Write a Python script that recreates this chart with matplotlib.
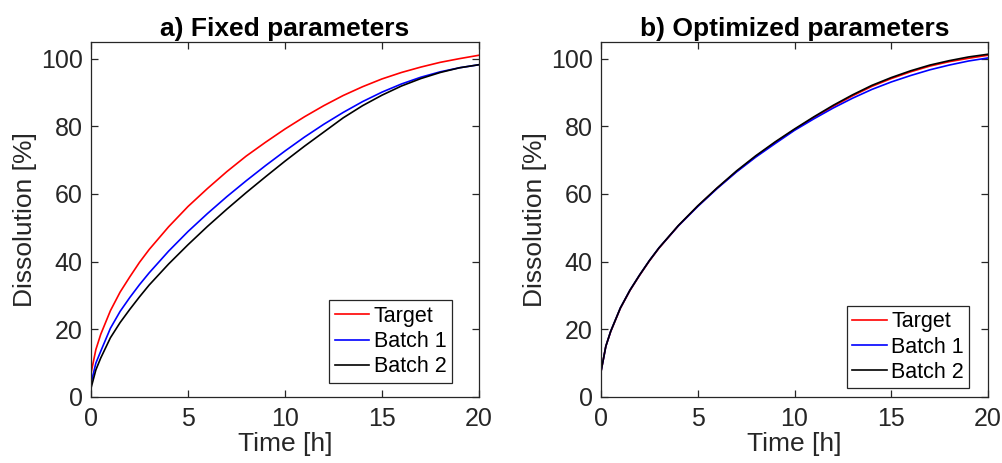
import matplotlib.pyplot as plt

plt.rcParams['font.family'] = ['Liberation Sans', 'DejaVu Sans']

# time grid [h]
time_h = [0, 0.25, 0.5, 1, 1.5, 2, 2.5, 3, 4, 5, 6, 7, 8, 9, 10,
          11, 12, 13, 14, 15, 16, 17, 18, 19, 20]

# a) fixed parameters
fixed_target = [7, 14, 18.5, 25.5, 31, 35.5, 39.8, 43.6, 50.3, 56.3, 61.6, 66.6, 71.2, 75.3, 79.2,
                82.8, 86.1, 89.1, 91.7, 94, 95.9, 97.5, 98.9, 100, 101]
fixed_batch1 = [4, 10, 13.5, 20.3, 25.3, 29.4, 33.2, 36.7, 43.1, 48.9, 54.2, 59.2, 63.9, 68.4, 72.7,
                76.8, 80.6, 84.1, 87.3, 90.1, 92.5, 94.5, 96.1, 97.3, 98.2]
fixed_batch2 = [2.6, 8, 11.5, 17.5, 22, 25.9, 29.6, 33.1, 39.3, 45, 50.4, 55.5, 60.4, 65.1, 69.7,
                74.1, 78.3, 82.5, 86.1, 89.2, 91.9, 94.1, 95.9, 97.3, 98.2]

# b) optimized parameters
opt_target = [7.5, 15, 19.3, 26.2, 31.5, 36, 40.2, 44, 50.6, 56.4, 61.7, 66.6, 71.1, 75.2, 79,
              82.6, 85.9, 89, 91.8, 94.1, 96.1, 97.8, 99.1, 100.1, 101]
opt_batch1 = [7.5, 15, 19.4, 26.3, 31.6, 36.1, 40.3, 44.1, 50.6, 56.3, 61.6, 66.5, 70.9, 74.9, 78.8,
              82.2, 85.4, 88.3, 90.9, 93.1, 95, 96.7, 98.1, 99.3, 100.2]
opt_batch2 = [7.5, 15, 19.4, 26.3, 31.6, 36.1, 40.3, 44.1, 50.7, 56.5, 61.8, 66.8, 71.3, 75.4, 79.2,
              82.8, 86.2, 89.3, 92.1, 94.4, 96.4, 98.1, 99.4, 100.5, 101.3]

series_labels = ['Target', 'Batch 1', 'Batch 2']
series_colors = ['#ff0000', '#0000ff', '#000000']
titles = ['a) Fixed parameters', 'b) Optimized parameters']

axis_gray = '#262626'

fig = plt.figure(figsize=(10.03, 4.63), dpi=100)
ax_a = fig.add_axes([91 / 1003, 66 / 463, 388 / 1003, 355.3 / 463])
ax_b = fig.add_axes([601 / 1003, 66 / 463, 387 / 1003, 355.3 / 463])

panels = [
    (ax_a, [fixed_target, fixed_batch1, fixed_batch2], (0.9297, 0.040)),
    (ax_b, [opt_target, opt_batch1, opt_batch2], (0.9517, 0.0245)),
]

for (ax, curves, leg_anchor), title in zip(panels, titles):
    for y, lab, col in zip(curves, series_labels, series_colors):
        ax.plot(time_h, y, color=col, lw=1.2, label=lab)

    ax.set_xlim(0, 20)
    ax.set_ylim(0, 105)
    ax.set_xticks([0, 5, 10, 15, 20])
    ax.set_yticks([0, 20, 40, 60, 80, 100])
    ax.tick_params(direction='in', top=True, right=True, length=5, width=0.9,
                   labelsize=18, colors=axis_gray)
    ax.tick_params(axis='x', pad=7)
    ax.tick_params(axis='y', pad=6)
    for sp in ax.spines.values():
        sp.set_color(axis_gray)
        sp.set_linewidth(0.9)

    ax.set_xlabel('Time [h]', fontsize=19, color=axis_gray, labelpad=1)
    ax.set_ylabel('Dissolution [%]', fontsize=19, color=axis_gray, labelpad=3)
    ax.set_title(title, fontsize=19, fontweight='bold', pad=4)

    leg = ax.legend(loc='lower right', bbox_to_anchor=leg_anchor, borderaxespad=0,
                    fontsize=15.5, handlelength=1.6, handletextpad=0.2,
                    labelspacing=0.2, borderpad=0.25, fancybox=False,
                    framealpha=1, edgecolor=axis_gray)
    leg.get_frame().set_linewidth(0.9)

fig.savefig('out.png', dpi=100)
